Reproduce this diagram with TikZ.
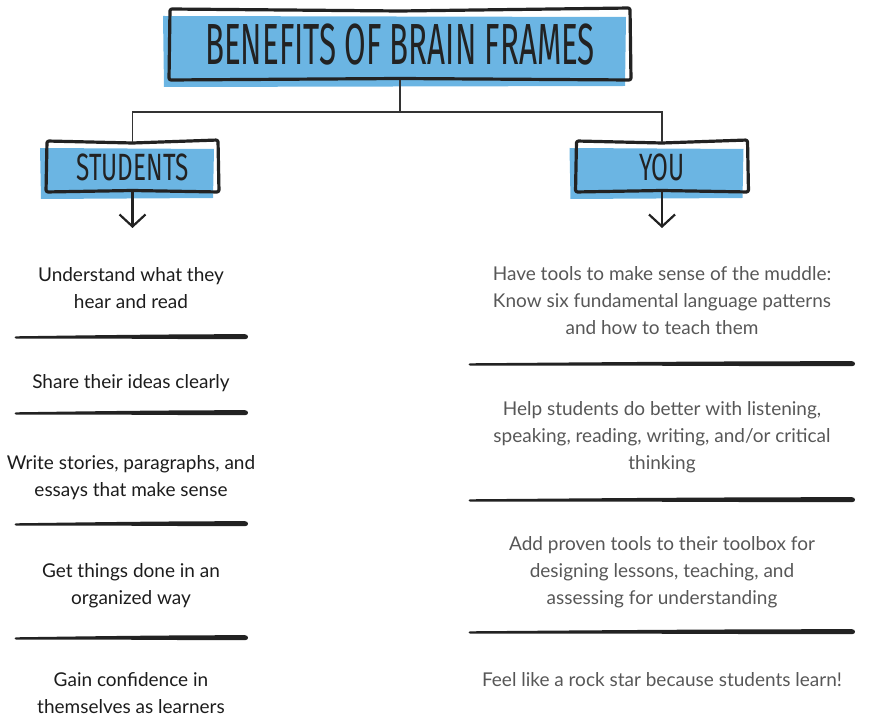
\documentclass[tikz,border=0pt]{standalone}
\usepackage{fontspec}
\setmainfont{Lato}
\newfontfamily\framefont[FakeStretch=0.54]{Fira Sans}
\newfontfamily\groupfont[FakeStretch=0.64]{Fira Sans}
\usetikzlibrary{
    arrows.meta,
    positioning,
    calc,
    backgrounds
}
\definecolor{bfblue}{HTML}{6BB5E3}
\definecolor{bfink}{HTML}{222222}
\definecolor{bfline}{HTML}{333333}
\definecolor{bftext}{HTML}{1C1C1C}
\definecolor{bfgray}{HTML}{575757}
\tikzset{
    % Title box
    titlebox/.style={
        rectangle,
        outer sep=0pt,
        inner sep=0pt,
        minimum width=460pt,
        minimum height=70pt,
        text=bfink,
        font=\framefont\fontsize{58}{58}\selectfont
    },
    % Group header box
    groupbox/.style={
        rectangle,
        outer sep=0pt,
        inner sep=0pt,
        minimum width=171pt,
        minimum height=50pt,
        text=bfink,
        font=\groupfont\fontsize{38}{38}\selectfont
    },
    % Hand-drawn frame
    frameline/.style={
        draw=bfink,
        line width=3.2pt,
        line join=round,
        rounded corners=2pt
    },
    % Tree connector
    treeline/.style={
        draw=bfline,
        line width=1.8pt
    },
    % Down arrow
    downarrow/.style={
        -{Straight Barb[length=12pt,width=26pt,line width=2.2pt]},
        draw=bfink,
        line width=2.2pt
    },
    % Student item
    stuitem/.style={
        align=center,
        text=bftext,
        inner sep=0pt,
        font=\fontsize{19}{27}\selectfont
    },
    % Teacher item
    youitem/.style={
        stuitem,
        text=bfgray
    }
}
\newcommand{\handframe}[1]{%
    \begin{pgfonlayer}{background}
        \fill[bfblue] ($(#1.north west)+(-7,6)$) -- ($(#1.north east)+(-4,7)$)
            -- ($(#1.south east)+(-5,6)$) -- ($(#1.south west)+(-6,7)$) -- cycle;
    \end{pgfonlayer}
    \draw[frameline] ($(#1.north west)+(0,-1)$) -- ($(#1.north)+(0,1)$)
        -- ($(#1.north east)+(0,-2)$) -- ($(#1.south east)+(1,0)$)
        -- ($(#1.south)+(0,-1.5)$) -- ($(#1.south west)+(-1,0)$) -- cycle;
}
\newcommand{\brushsep}[3]{%
    \fill[bfink] (#1,#3-0.7)
        .. controls ({#1+0.35*(#2-#1)},#3-1.8) and ({#1+0.65*(#2-#1)},#3-2.8) .. (#2-3,#3-2.8)
        .. controls (#2+1,#3-2.8) and (#2+1,#3+2.2) .. (#2-3,#3+2.2)
        .. controls ({#1+0.65*(#2-#1)},#3+2.2) and ({#1+0.35*(#2-#1)},#3+1.2) .. (#1,#3+1.6)
        .. controls (#1-2,#3+1.6) and (#1-2,#3-0.7) .. cycle;
}

\begin{document}
\begin{tikzpicture}[x=1pt, y=-1pt]
    \useasboundingbox (0,0) rectangle (871,727);

    % headers
    \node[titlebox] (title) at (400,45) {BENEFITS OF BRAIN FRAMES};
    \node[groupbox] (students) at (132.5,167) {STUDENTS};
    \node[groupbox] (you) at (662,167) {YOU};
    \handframe{title}
    \handframe{students}
    \handframe{you}

    \coordinate[below=32pt of title.south] (split);
    \draw[treeline] (title.south) -- (split);
    \draw[treeline] (split) -| (students.north);
    \draw[treeline] (split) -| (you.north);

    \coordinate[below=36pt of students.south] (stu-end);
    \coordinate[below=36pt of you.south] (you-end);
    \draw[downarrow] (students.south) -- (stu-end);
    \draw[downarrow] (you.south) -- (you-end);

    % students column
    \node[stuitem] (stu1) at (131,288) {Understand what they\\hear and read};
    \node[stuitem] (stu2) at (131,383) {Share their ideas clearly};
    \node[stuitem] (stu3) at (131,477.5) {Write stories, paragraphs, and\\essays that make sense};
    \node[stuitem] (stu4) at (131,585.5) {Get things done in an\\organized way};
    \node[stuitem] (stu5) at (131,693) {Gain confidence in\\themselves as learners};
    \brushsep{16}{248}{337}
    \brushsep{16}{248}{413}
    \brushsep{16}{248}{524}
    \brushsep{16}{248}{638}

    % you column
    \node[youitem] (you1) at (662,301) {Have tools to make sense of the muddle:\\Know six fundamental language patterns\\and how to teach them};
    \node[youitem] (you2) at (662,437) {Help students do better with listening,\\speaking, reading, writing, and/or critical\\thinking};
    \node[youitem] (you3) at (662,572) {Add proven tools to their toolbox for\\designing lessons, teaching, and\\assessing for understanding};
    \node[youitem] (you4) at (662,680) {Feel like a rock star because students learn!};
    \brushsep{470}{855}{364}
    \brushsep{470}{855}{500}
    \brushsep{470}{855}{632}
\end{tikzpicture}
\end{document}
